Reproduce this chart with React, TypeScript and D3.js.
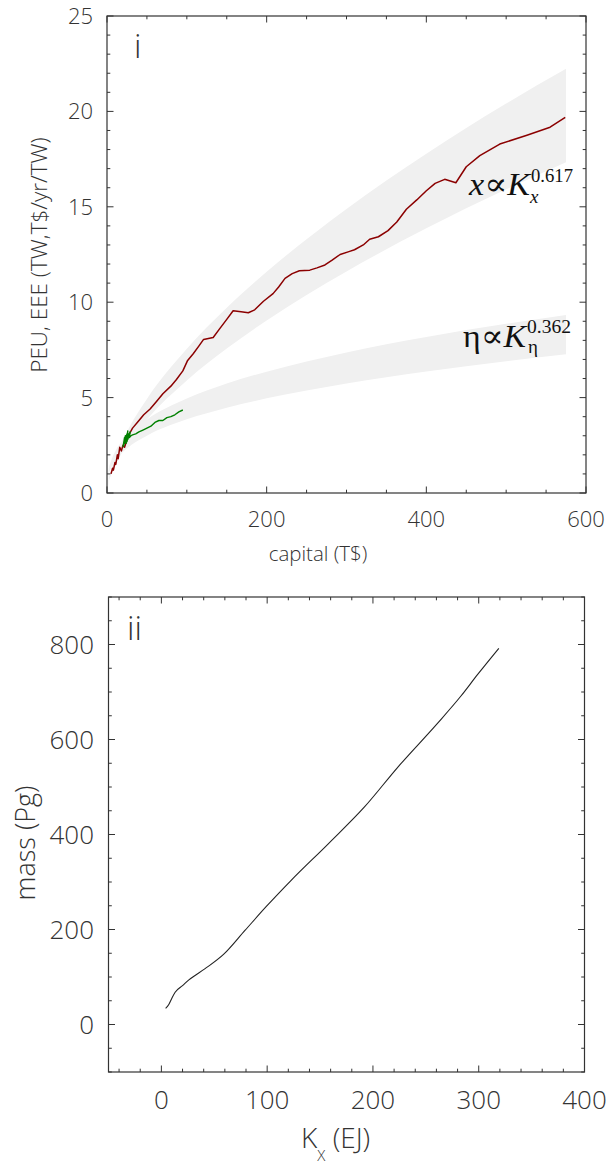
import * as d3 from "d3";

// panel i: primary energy use vs capital
const redCapital = [5, 7, 8, 10, 11, 13, 14, 16, 18, 20, 22, 25, 28, 32, 39, 46, 54, 62, 70, 80, 87, 95, 101, 108, 115, 121, 133, 141, 150, 158, 168, 177, 185, 196, 208, 215, 223, 232, 241, 254, 263, 273, 282, 292, 303, 310, 321, 329, 340, 352, 363, 375, 388, 400, 411, 423, 437, 450, 467, 492, 526, 555, 574];
const redPEU = [1.0, 1.3, 1.2, 1.6, 1.5, 2.0, 1.8, 2.4, 2.2, 2.5, 2.4, 2.8, 3.1, 3.4, 3.75, 4.1, 4.4, 4.8, 5.2, 5.6, 5.95, 6.4, 6.95, 7.3, 7.7, 8.05, 8.15, 8.6, 9.1, 9.55, 9.5, 9.45, 9.6, 10.05, 10.45, 10.8, 11.25, 11.5, 11.65, 11.68, 11.8, 11.95, 12.2, 12.5, 12.65, 12.75, 13.0, 13.3, 13.43, 13.75, 14.2, 14.87, 15.36, 15.84, 16.23, 16.44, 16.26, 17.1, 17.68, 18.29, 18.75, 19.17, 19.69];

const greenCapital = [20, 22, 21, 23, 22, 25, 24, 26, 25, 27, 26, 29, 28, 30, 32, 36, 40, 45, 50, 55, 60, 65, 70, 75, 80, 85, 90, 95];
const greenEEE = [2.4, 2.9, 2.5, 3.0, 2.6, 3.1, 2.6, 3.25, 2.7, 3.1, 2.8, 3.2, 2.9, 3.0, 3.05, 3.1, 3.2, 3.3, 3.4, 3.5, 3.7, 3.8, 3.8, 3.95, 4.0, 4.1, 4.25, 4.35];

const bandCapital = [0, 2, 5, 10, 25, 50, 100, 150, 200, 300, 400, 500, 575];
const bandXUpper = [0, 0.68, 1.19, 1.83, 3.21, 4.93, 7.56, 9.71, 11.59, 14.89, 17.78, 20.41, 22.23];
const bandXLower = [0, 0.53, 0.93, 1.42, 2.51, 3.85, 5.9, 7.57, 9.04, 11.61, 13.87, 15.92, 17.34];
const bandEtaUpper = [0, 1.2, 1.67, 2.15, 3.0, 3.85, 4.95, 5.74, 6.36, 7.37, 8.18, 8.87, 9.33];
const bandEtaLower = [0, 0.94, 1.3, 1.68, 2.33, 3.0, 3.86, 4.47, 4.96, 5.74, 6.37, 6.91, 7.27];

// panel ii: mass vs K_x
const massKx = [4, 7, 10, 13, 20, 26, 41, 59, 79, 99, 122, 158, 192, 224, 261, 283, 299, 319];
const massPg = [34, 42, 56, 68, 82, 94, 117, 148, 198, 248, 302, 381, 458, 543, 634, 691, 737, 792];

const topXTicks = [0, 200, 400, 600];
const topYTicks = [0, 5, 10, 15, 20, 25];
const botXTicks = [0, 100, 200, 300, 400];
const botYTicks = [0, 200, 400, 600, 800];

const FONT = "'Open Sans', 'DejaVu Sans', sans-serif";
const SERIF = "'Liberation Serif', 'DejaVu Serif', serif";
const INK = "#333";

type Lin = d3.ScaleLinear<number, number>;

function Frame({ x, y, xMajor, xMinor, yMajor, yMinor, fs, xOff, yOff }: {
  x: Lin; y: Lin; xMajor: number[]; xMinor: number[]; yMajor: number[]; yMinor: number[];
  fs: number; xOff: number; yOff: number;
}) {
  const [x0, x1] = x.range();
  const [y0, y1] = y.range(); // y0 bottom, y1 top
  const big = 6.5, small = 3.3;
  return (
    <g>
      <rect x={x0} y={y1} width={x1 - x0} height={y0 - y1} fill="none" stroke={INK} strokeWidth={1.2} />
      {xMinor.map((v) => {
        const L = xMajor.includes(v) ? big : small;
        return (
          <g key={"x" + v} stroke={INK} strokeWidth={1}>
            <line x1={x(v)} x2={x(v)} y1={y0} y2={y0 - L} />
            <line x1={x(v)} x2={x(v)} y1={y1} y2={y1 + L} />
          </g>
        );
      })}
      {yMinor.map((v) => {
        const L = yMajor.includes(v) ? big : small;
        return (
          <g key={"y" + v} stroke={INK} strokeWidth={1}>
            <line x1={x0} x2={x0 + L} y1={y(v)} y2={y(v)} />
            <line x1={x1} x2={x1 - L} y1={y(v)} y2={y(v)} />
          </g>
        );
      })}
      {xMajor.map((v) => (
        <text key={"xl" + v} x={x(v)} y={y0 + xOff} textAnchor="middle" fontSize={fs} fill={INK}>{v}</text>
      ))}
      {yMajor.map((v) => (
        <text key={"yl" + v} x={x0 - yOff} y={y(v)} dy="0.36em" textAnchor="end" fontSize={fs} fill={INK}>{v}</text>
      ))}
    </g>
  );
}

export default function App() {
  const xt = d3.scaleLinear([0, 600], [107, 586]);
  const yt = d3.scaleLinear([0, 25], [493, 16]);
  const xb = d3.scaleLinear([-50, 400], [108.5, 584.5]);
  const yb = d3.scaleLinear([-100, 900], [1072, 597]);

  const band = (up: number[], lo: number[]) =>
    d3.area<number>()
      .x((d) => xt(d))
      .y0((_, i) => yt(lo[i]))
      .y1((_, i) => yt(up[i]))
      .curve(d3.curveMonotoneX)(bandCapital);

  const line = (xs: number[], ys: number[], sx: Lin, sy: Lin, curve: d3.CurveFactory = d3.curveLinear) =>
    d3.line<number>()
      .x((d) => sx(d))
      .y((_, i) => sy(ys[i]))
      .curve(curve)(xs);

  return (
    <svg width={606} height={1167} style={{ position: "absolute", left: 0, top: 0, fontFamily: FONT, fontWeight: 300 }}>
      <rect width={606} height={1167} fill="#fff" />

      {/* panel i */}
      <path d={band(bandXUpper, bandXLower) ?? ""} fill="#f0f0f0" />
      <path d={band(bandEtaUpper, bandEtaLower) ?? ""} fill="#f0f0f0" />
      <path d={line(redCapital, redPEU, xt, yt) ?? ""} fill="none" stroke="#8b0000" strokeWidth={1.5} strokeLinejoin="round" />
      <path d={line(greenCapital, greenEEE, xt, yt) ?? ""} fill="none" stroke="#008000" strokeWidth={1.4} strokeLinejoin="round" />
      <Frame x={xt} y={yt} xMajor={topXTicks} xMinor={d3.range(0, 601, 50)} yMajor={topYTicks} yMinor={d3.range(0, 26, 1)} fs={22} xOff={34} yOff={14} />
      <text x={134} y={58} fontSize={33} fill={INK}>i</text>
      <text transform="translate(47,255) rotate(-90)" textAnchor="middle" fontSize={22.5} fill={INK}>PEU, EEE (TW,T$/yr/TW)</text>
      <text x={318} y={561} textAnchor="middle" fontSize={20.5} fill={INK}>capital (T$)</text>

      <g fontFamily={SERIF} fontWeight={400} fill="#111">
        <text x={469} y={195} fontSize={32} textLength={61} lengthAdjust="spacingAndGlyphs">
          <tspan fontStyle="italic">x</tspan>∝<tspan fontStyle="italic">K</tspan>
        </text>
        <text x={531} y={181.5} fontSize={19} textLength={42} lengthAdjust="spacingAndGlyphs">0.617</text>
        <text x={530} y={203} fontSize={19} fontStyle="italic">x</text>

        <text x={463} y={346.5} fontSize={32} textLength={63} lengthAdjust="spacingAndGlyphs">
          η∝<tspan fontStyle="italic">K</tspan>
        </text>
        <text x={527} y={333} fontSize={19} textLength={44} lengthAdjust="spacingAndGlyphs">0.362</text>
        <text x={528} y={353} fontSize={19}>η</text>
      </g>

      {/* panel ii */}
      <path d={line(massKx, massPg, xb, yb, d3.curveMonotoneX) ?? ""} fill="none" stroke="#222" strokeWidth={1.1} strokeLinejoin="round" />
      <Frame x={xb} y={yb} xMajor={botXTicks} xMinor={d3.range(-40, 401, 20)} yMajor={botYTicks} yMinor={d3.range(-100, 901, 50)} fs={26} xOff={37} yOff={14.5} />
      <text x={127} y={640} fontSize={33} fill={INK}>ii</text>
      <text transform="translate(35,843) rotate(-90)" textAnchor="middle" fontSize={27} fill={INK}>mass (Pg)</text>
      <text x={301} y={1148} fontSize={28} fill={INK}>
        K<tspan fontSize={15} dy={13}>X</tspan><tspan dy={-13}> (EJ)</tspan>
      </text>
    </svg>
  );
}
